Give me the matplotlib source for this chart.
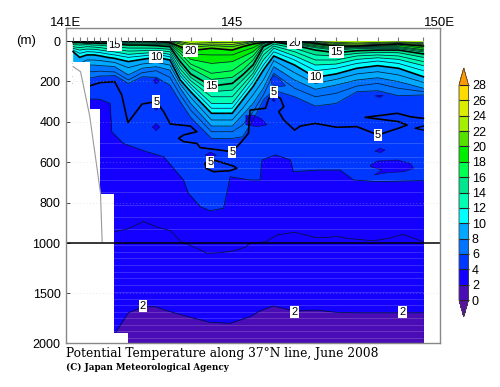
import numpy as np
import matplotlib
matplotlib.use('Agg')
import matplotlib.pyplot as plt
from matplotlib.colors import ListedColormap, BoundaryNorm
from matplotlib.cm import ScalarMappable

# station longitudes and isotherm depths (m)
lon = [141.17,141.33,141.5,141.67,141.83,142,142.17,142.5,142.83,143.17,143.5,143.75,144,144.5,145,145.25,145.5,145.75,146,146.5,147,147.5,148,148.5,149,149.6]
t23 = [0,0,0,0,0,0,0,0,0,0,0,3,12,8,8,5,2,0,0,0,2,7,10,7,5,8]
t22 = [0,0,0,0,0,0,0,0,0,0,0,8,20,15,17,10,3,0,0,0,3,12,15,12,8,13]
t21 = [0,0,0,0,0,0,0,0,0,0,2,15,31,23,28,17,7,2,0,0,7,18,21,17,12,18]
t20 = [0,0,0,0,0,0,0,0,0,2,7,28,48,36,45,28,15,7,3,0,12,25,25,20,15,25]
t19 = [0,0,0,0,0,0,2,2,3,5,10,36,66,69,69,50,33,8,0,7,17,30,28,25,21,35]
t18 = [2,2,2,2,2,3,3,5,7,8,13,48,91,111,102,78,53,10,2,10,23,35,30,28,28,43]
t17 = [3,3,3,3,5,5,7,8,10,12,17,61,114,160,147,111,74,13,2,13,28,40,33,33,33,48]
t16 = [7,7,7,7,8,8,10,13,15,17,21,78,135,190,180,144,94,20,3,17,33,45,38,36,38,54]
t15 = [8,8,10,10,12,12,15,20,20,23,28,102,163,223,210,168,119,28,5,21,45,58,48,45,45,64]
t14 = [18,20,18,20,21,25,28,35,35,36,41,120,180,251,243,193,140,48,15,36,69,74,61,56,58,81]
t13 = [28,33,28,30,33,38,41,50,48,46,53,139,196,276,276,218,160,69,25,53,94,94,74,69,74,102]
t12 = [36,45,40,41,45,50,54,66,61,56,66,157,213,309,309,243,177,94,36,74,119,114,91,83,91,122]
t11 = [45,61,53,54,58,64,69,81,74,66,78,172,229,333,333,267,201,119,53,94,147,135,111,99,111,147]
t10 = [53,81,69,69,74,81,86,102,91,81,94,193,251,358,358,292,226,144,74,119,180,163,135,122,135,177]
t9 = [111,111,94,94,97,102,106,132,114,106,119,213,279,391,391,333,267,193,97,157,210,190,163,152,168,205]
t8 = [144,144,119,119,122,124,127,168,135,127,144,234,309,421,421,366,309,234,127,193,239,218,193,182,201,234]
t7 = [177,177,152,152,149,152,153,193,157,147,180,267,342,449,449,416,350,267,160,234,276,259,223,210,234,251]
t6 = [210,210,185,180,173,173,170,210,177,180,218,300,378,482,482,474,391,292,243,276,322,309,251,246,271,267]

t4_lon = [141.56,141.82,142.06,142.10,142.38,142.94,143.35,143.83,143.94,144.23,144.47,144.79,144.86,144.95,145.43,145.67,145.70,145.72,146.04,146.40,146.47,147.04,147.60,147.92,148.49,149.6]
t4 = [287,289,309,449,507,548,573,688,752,820,840,828,762,672,688,688,622,589,564,589,647,639,639,688,696,691]

t5_lon = [141.56,141.82,142.17,142.34,142.49,142.66,142.83,143.17,143.35,143.51,143.99,144.15,143.83,143.71,143.83,144.15,144.23,144.71,144.99,145.19,145.39,145.43,145.80,145.88,146.0,146.16,146.24,146.12,146.24,146.5,146.64,147.0,147.51,148.0,148.51,149.0,149.21,149.0,148.2,148.97,149.29,149.6]
t5 = [223,206,201,267,404,358,312,300,350,411,421,449,465,482,498,507,528,540,548,507,457,342,333,284,267,284,325,350,391,441,421,408,427,424,465,432,416,399,378,358,375,383]
t5b_lon = [149.6,149.4,149.6]
t5b = [421,432,441]
t5c_lon = [144.35,144.55,145.03,145.11,144.95,144.55,144.37,144.35]
t5c = [606,589,619,630,642,647,630,606]

t3_lon = [142.18,142.46,142.86,143.19,143.51,143.79,144.07,144.39,144.71,145.03,145.31,145.43,145.8,146.08,146.5,147.0,147.32,147.51,147.76,148.4,148.76,149.11,149.6]
t3 = [943,932,894,921,939,998,1037,1103,1097,1080,1043,1003,994,960,947,972,972,967,977,989,977,957,994]

t2_lon = [142.18,142.5,142.86,143.14,143.51,143.99,144.47,144.95,145.43,145.67,145.99,146.5,147,147.51,148,148.5,149,149.6]
t2 = [1903,1697,1637,1637,1687,1743,1793,1803,1737,1677,1630,1680,1670,1693,1697,1697,1697,1697]

# closed pockets: (lon, depth, colour band lower bound)
pockets = [
    ([148.33,148.49,148.97,149.29,149.37,149.12,148.73,148.42,148.6,148.33], [614,594,589,606,631,647,652,663,639,622], 2),
    ([148.44,148.56,148.68,148.56], [545,531,540,553], 2),
    ([145.33,145.5,145.7,145.84,145.6,145.33], [370,366,385,415,424,415], 2),
    ([148.45,148.55,148.63,148.55], [272,268,270,280], 2),
    ([145.92,146.0,146.15,146.28,146.1,145.95], [190,170,190,222,226,215], 4),
    ([143.10,143.17,143.24,143.17], [198,184,198,212], 2),
    ([143.08,143.17,143.26,143.17], [426,408,426,444], 2),
    ([143.13,143.17,143.21,143.17], [335,327,335,343], 2),
    ([144.35,144.47,144.62,144.47], [564,550,564,578], 2),
    ([145.96,146.0,146.04,146.0], [292,284,292,300], 2),
]

bottom_lon = [141.17,141.57,141.83,142.16,142.49,150]
bottom_depth = [102,337,757,1900,2000,2000]
topo_lon = [141.17,141.35,141.57,141.83,141.87]
topo_depth = [127,152,371,752,995]

# faint level stripes in the interpolated section
stripes = [507,573,630,688,746,812,871,931,1020,1090,1150,1220,1290,1350,1420,1490,1560,1620,1690,1750,1820,1880,1950]

levels = list(range(0, 30, 2))
colors = ['#5a0f9e','#4a0cb4','#1400ff','#0038ff','#0073ff','#00a8ff','#00ffff','#00ffb4','#00e68c',
          '#00ff50','#00ee00','#55e000','#a4f000','#dcec00','#ffdc00','#ff9a00']
band = {lv: colors[i + 1] for i, lv in enumerate(levels[:-1])}

y_ticks = [0,200,400,600,800,1000,1500,2000]
grid_depths = [200,400,600,800,1500]
x_ticks = list(range(141, 151))
x_labels = ['141E','','','','145','','','','','150E']
station_ticks = [141.17,141.33,141.5,141.67,141.83,142,142.17,142.33,142.5,142.67,142.83,143.17,143.5,144,144.5,145,145.5,146,146.5,147,147.5,148,148.5,149,149.6]

labels = [(142.17,20,'15'),(143.17,78,'10'),(144.0,48,'20'),(144.49,223,'15'),(143.17,300,'5'),(145.0,548,'5'),
          (144.47,600,'5'),(146.5,8,'20'),(147.51,56,'15'),(147.0,180,'10'),(146.0,254,'5'),(148.51,465,'5'),
          (142.85,1630,'2'),(146.5,1687,'2'),(149.1,1687,'2')]

sans = 'Liberation Sans'
fig = plt.figure(figsize=(5, 3.87), dpi=100)
ax = fig.add_axes([66/500, 1-343/387, 374/500, 315/387])


def forward(d):
    return np.interp(d, [-65, 0, 1000, 2000], [-13, 0, 202, 302])


def inverse(p):
    return np.interp(p, [-13, 0, 202, 302], [-65, 0, 1000, 2000])


ax.set_yscale('function', functions=(forward, inverse))
ax.set_xlim(141, 150)
ax.set_ylim(2000, -65)

# colour bands, warm to cold
ax.fill_between(lon, 0, 2000, color=band[22], lw=0, zorder=1)
for t, d in [(22,t22),(20,t20),(18,t18),(16,t16),(14,t14),(12,t12),(10,t10),(8,t8),(6,t6)]:
    ax.fill_between(lon, d, 2000, color=band[t-2], lw=0, zorder=1)
ax.fill_between(t4_lon, t4, 2000, color=band[2], lw=0, zorder=1)
ax.fill_between(t2_lon, t2, 2000, color=band[0], lw=0, zorder=1)
for px, py, b in pockets:
    ax.fill(px, py, color=band[b], lw=0, zorder=2)
    ax.plot(px + px[:1], py + py[:1], color='#101040', lw=0.4, zorder=3)

ax.hlines(stripes, 141.17, 149.6, color='white', lw=0.6, alpha=0.2, zorder=3)

# isotherms
for d in [t23,t22,t21,t19,t18,t17,t16,t14,t13,t12,t11,t9,t8,t7,t6]:
    ax.plot(lon, d, color='#05203a', lw=0.55, zorder=4)
ax.plot(t4_lon, t4, color='#05103a', lw=0.55, zorder=4)
ax.plot(t3_lon, t3, color='#05103a', lw=0.55, zorder=4)
ax.plot(t2_lon, t2, color='#05103a', lw=0.55, zorder=4)
for d in [t20,t15,t10]:
    ax.plot(lon, d, color='black', lw=1.2, zorder=4)
ax.plot(t5_lon, t5, color='black', lw=1.2, zorder=4)
ax.plot(t5b_lon, t5b, color='black', lw=1.0, zorder=4)
ax.plot(t5c_lon, t5c, color='black', lw=1.2, zorder=4)

# sea floor
ax.fill_between(bottom_lon, bottom_depth, 2000, step='post', color='white', lw=0, zorder=5)
ax.plot(topo_lon, topo_depth, color='#999999', lw=0.8, zorder=6)

ax.hlines(grid_depths, 141, 150, color='#bbbbbb', lw=0.6, alpha=0.5, linestyles=(0, (1, 3)), zorder=6)
ax.axhline(1000, color='black', lw=1.1, zorder=7)
ax.hlines(0, 141, 141.17, color='black', lw=1.2, zorder=7)

for x, y, s in labels:
    ax.text(x, y, s, ha='center', va='center', fontsize=8, family=sans, zorder=8,
            bbox=dict(facecolor='white', edgecolor='none', pad=0.8))

ax.axhspan(-65, 0, color='white', lw=0, zorder=9)
ax.vlines(station_ticks, -20, 0, color='#777777', lw=0.8, zorder=10)

for s in ax.spines.values():
    s.set_color('#888888')
    s.set_linewidth(1.0)
    s.set_zorder(11)

ax.minorticks_off()
ax.set_yticks(y_ticks)
ax.set_yticklabels([str(v) for v in y_ticks], family=sans, fontsize=9)
ax.tick_params(axis='y', direction='in', length=3, width=0.7, color='#444444', pad=4)
ax.set_xticks(x_ticks)
ax.set_xticklabels(x_labels, family=sans, fontsize=9.5)
ax.tick_params(axis='x', top=True, labeltop=True, bottom=False, labelbottom=False,
               direction='in', length=3, width=0.8, color='#888888', pad=-0.5)

fig.text(16/500, 1-41/387, '(m)', family=sans, fontsize=9.5, va='center')
fig.text(66/500, 1-353/387, 'Potential Temperature along 37°N line, June 2008',
         family='DejaVu Serif', fontsize=8.8, va='center')
fig.text(66/500, 1-367/387, '(C) Japan Meteorological Agency',
         family='DejaVu Serif', fontsize=6.3, weight='bold', va='center')

# colour bar, the axes box includes both arrow tips
cax = fig.add_axes([459/500, 1-317/387, 9.5/500, 249/387])
cmap = ListedColormap(colors[1:-1])
cmap.set_under(colors[0])
cmap.set_over(colors[-1])
norm = BoundaryNorm(levels, cmap.N)
cb = fig.colorbar(ScalarMappable(norm=norm, cmap=cmap), cax=cax, extend='both',
                  extendfrac=0.079, ticks=levels, drawedges=True, spacing='uniform')
cb.dividers.set_color('#222222')
cb.dividers.set_linewidth(0.8)
cb.outline.set_edgecolor('#444444')
cb.outline.set_linewidth(0.6)
cb.ax.tick_params(length=0, pad=2.5)
cb.ax.set_yticklabels([str(v) for v in levels], family=sans, fontsize=9)

fig.savefig('out.png', dpi=100)
